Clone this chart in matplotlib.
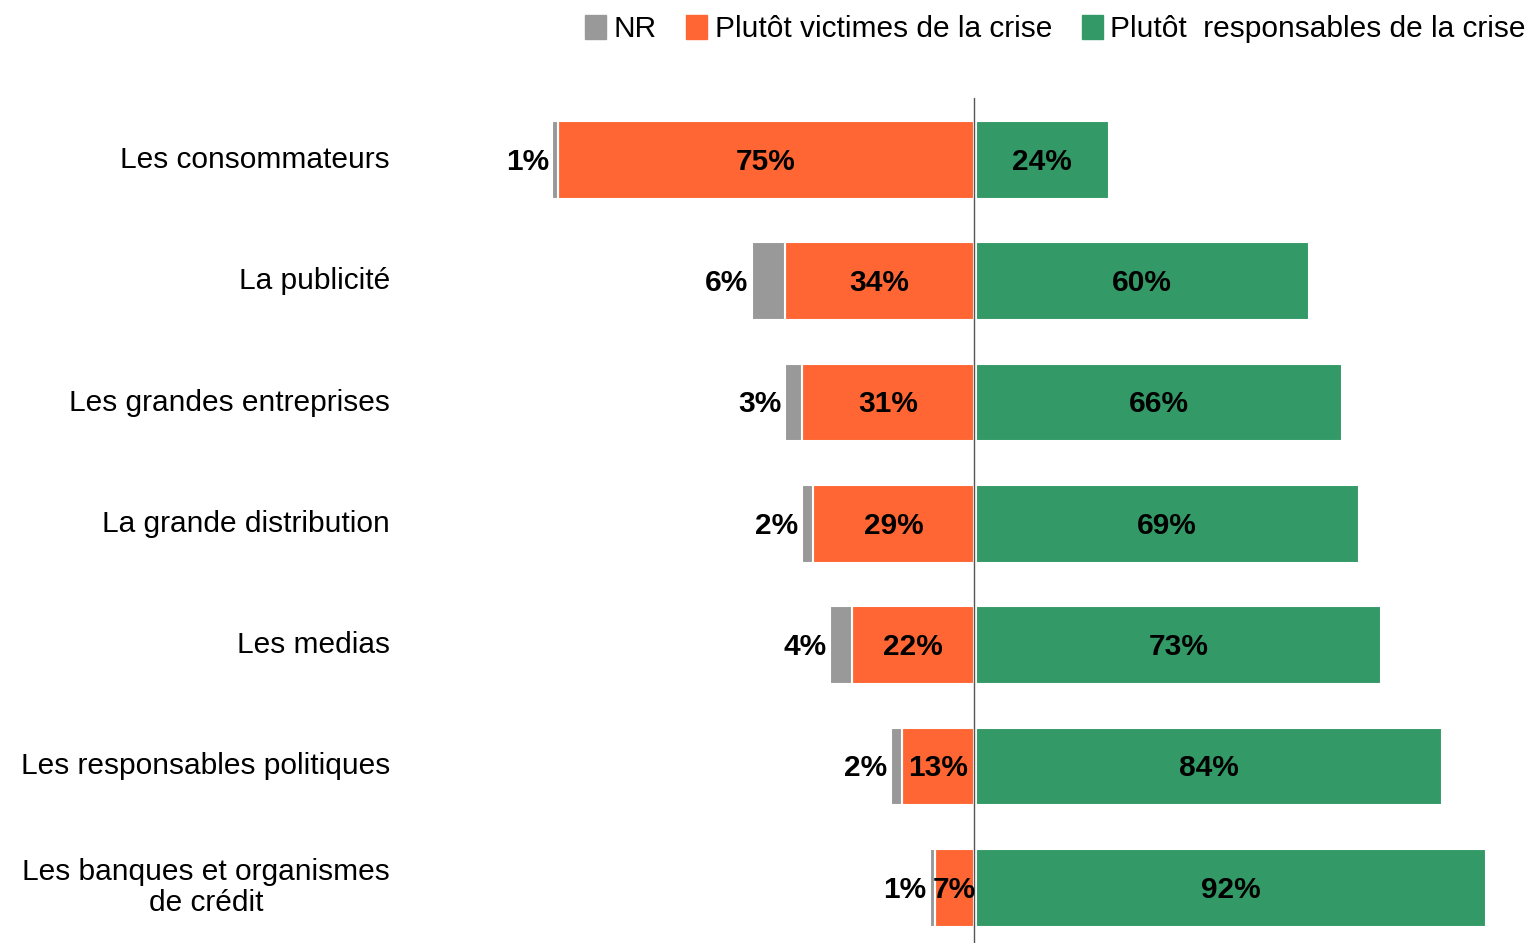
import numpy as np
import matplotlib.pyplot as plt
from matplotlib.patches import Patch

plt.rcParams['font.family'] = ['Liberation Sans', 'DejaVu Sans']

# data
categories = ["Les consommateurs", "La publicité", "Les grandes entreprises",
              "La grande distribution", "Les medias", "Les responsables politiques",
              "Les banques et organismes\nde crédit"]
nr = [1, 6, 3, 2, 4, 2, 1]
victimes = [75, 34, 31, 29, 22, 13, 7]
responsables = [24, 60, 66, 69, 73, 84, 92]

GREY = "#999999"
ORANGE = "#FF6633"
GREEN = "#339966"
FS = 21.5

fig = plt.figure(figsize=(15.29, 9.43), dpi=100)
ax = fig.add_axes([400 / 1529, 0, 1 - 400 / 1529, (943 - 98) / 943])

y = np.arange(len(categories))
h = 0.64
vic = np.array(victimes)
nrv = np.array(nr)
resp = np.array(responsables)

ax.barh(y, -vic, height=h, color=ORANGE, edgecolor="white", linewidth=1.5)
ax.barh(y, -nrv, left=-vic, height=h, color=GREY, edgecolor="white", linewidth=1.5)
ax.barh(y, resp, left=0.3, height=h, color=GREEN, edgecolor="white", linewidth=1.5)
ax.axvline(0, color="#555555", linewidth=1)

dy = 0.015  # labels sit a touch below the bar centre
for i in range(len(categories)):
    ax.text(-vic[i] / 2, y[i] + dy, f"{vic[i]}%", ha="center", va="center",
            fontsize=FS, fontweight="bold", color="black")
    ax.text(0.3 + resp[i] / 2, y[i] + dy, f"{resp[i]}%", ha="center", va="center",
            fontsize=FS, fontweight="bold", color="black")
    ax.text(-vic[i] - nrv[i] - 0.6, y[i] + dy, f"{nrv[i]}%", ha="right", va="center",
            fontsize=FS, fontweight="bold", color="black")
    ax.text(-105.2, y[i], categories[i], ha="right", va="center",
            fontsize=FS, color="black", linespacing=1.15, multialignment="center")

ax.set_xlim(-103.4, 100.0)
ax.set_ylim(6.455, -0.51)
ax.axis("off")

handles = [Patch(color=GREY), Patch(color=ORANGE), Patch(color=GREEN)]
labels = ["NR", "Plutôt victimes de la crise", "Plutôt  responsables de la crise"]
fig.legend(handles, labels, loc="upper right", bbox_to_anchor=(1.0155, 1.013), ncol=3,
           frameon=False, fontsize=FS, handlelength=0.7, handleheight=0.9,
           handletextpad=0.25, columnspacing=1.0)

fig.savefig("out.png", dpi=100)
